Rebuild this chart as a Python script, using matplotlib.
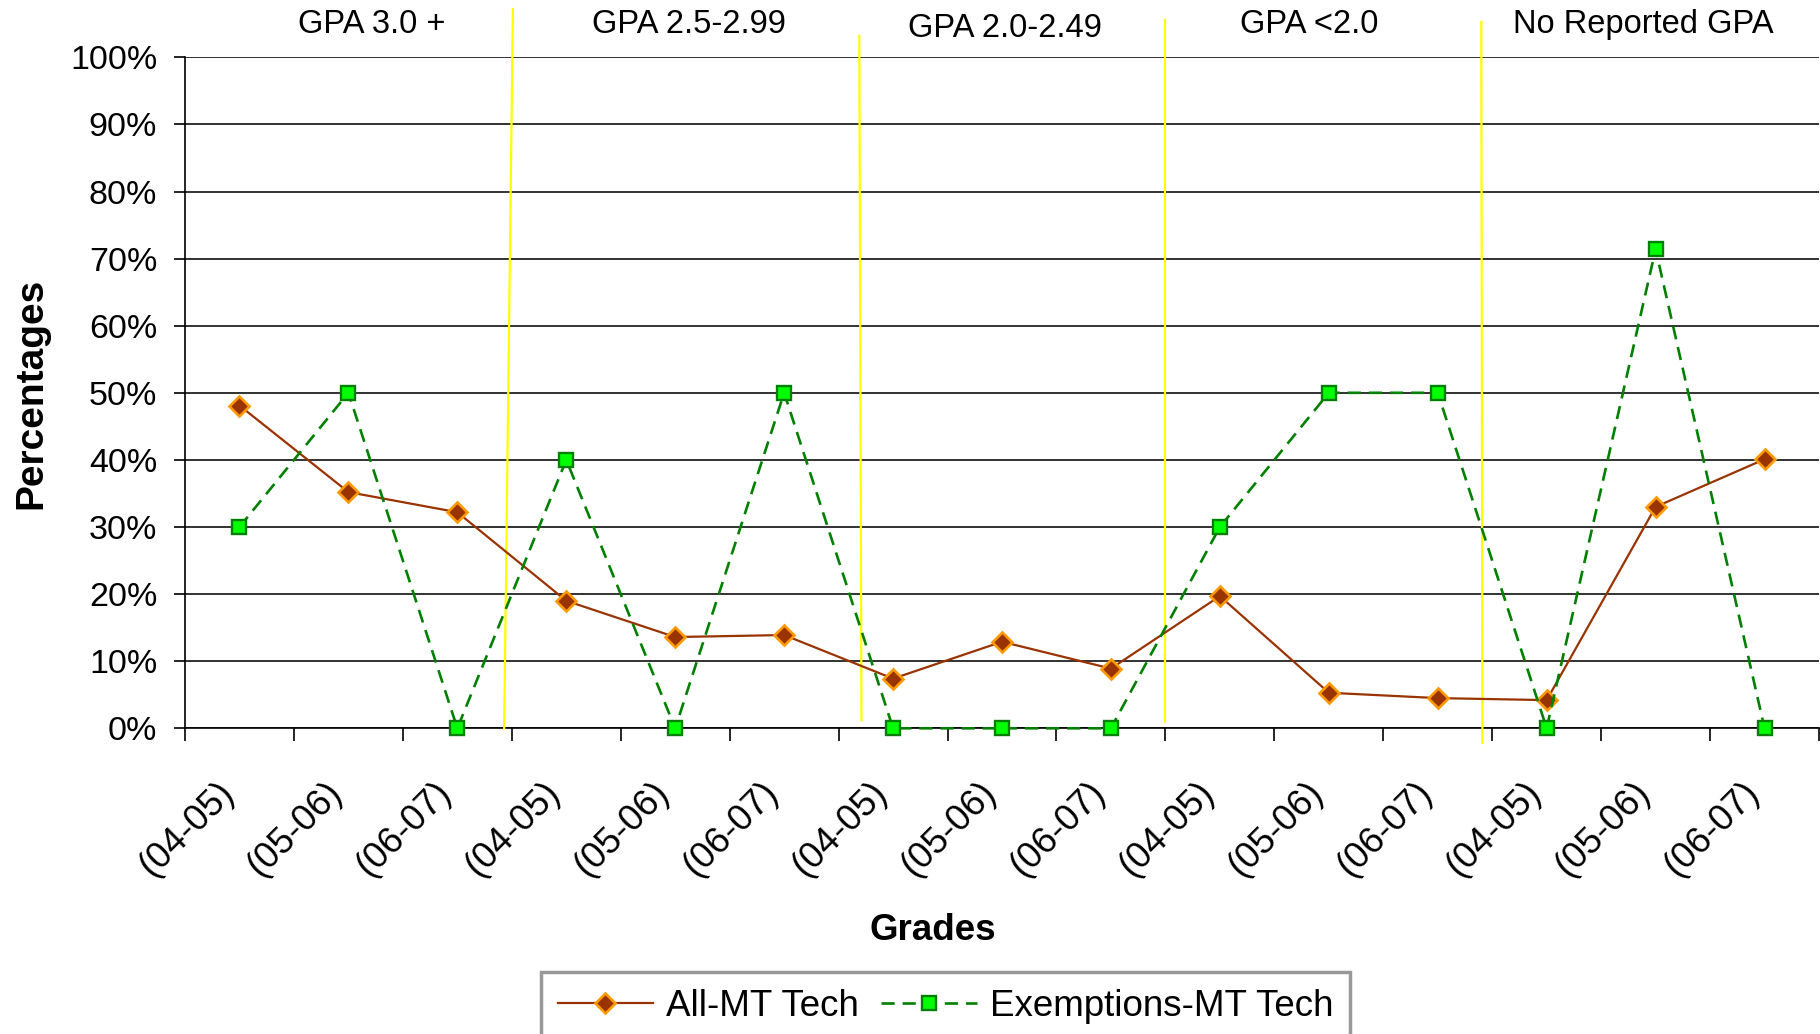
import numpy as np
import matplotlib
matplotlib.use('Agg')
import matplotlib.pyplot as plt
from matplotlib.transforms import ScaledTranslation

plt.rcParams['font.family'] = ['Liberation Sans', 'DejaVu Sans']

# data (percent)
years = ['(04-05)', '(05-06)', '(06-07)'] * 5
all_mt = [48.1, 35.2, 32.2, 19.0, 13.6, 13.9, 7.4, 12.9, 8.9, 19.7, 5.3, 4.5, 4.2, 33.0, 40.1]
exemptions = [30, 50, 0, 40, 0, 50, 0, 0, 0, 30, 50, 50, 0, 71.4, 0]
groups = ['GPA 3.0 +', 'GPA 2.5-2.99', 'GPA 2.0-2.49', 'GPA <2.0', 'No Reported GPA']
group_x = [1.21, 4.13, 7.03, 9.82, 12.89]
group_y = [104.9, 104.9, 104.3, 104.9, 104.9]

# hand drawn yellow separators (x top, x bottom, y top, y bottom)
sep_xt = [2.51, 5.69, 8.50, 11.40]
sep_xb = [2.43, 5.71, 8.50, 11.41]
sep_yt = [107.2, 103.2, 105.6, 105.3]
sep_yb = [0.0, 1.2, 0.9, -2.2]

fig = plt.figure(figsize=(18.2, 10.34), dpi=100)
ax = fig.add_axes([185 / 1820, 1 - 728.3 / 1034, 1634 / 1820, 671 / 1034])

x = np.arange(len(years))

ax.plot(x, all_mt, color='#993300', lw=1.6, marker='D', ms=10,
        mfc='#993300', mec='#FF9900', mew=1.9, zorder=4, clip_on=False,
        label='All-MT Tech')
ax.plot(x, exemptions, color='#008000', lw=1.9, ls=(0, (5, 3)), marker='s', ms=10.5,
        mfc='#00FF00', mec='#008000', mew=1.7, zorder=5, clip_on=False,
        label='Exemptions-MT Tech')

for xt, xb, yt, yb in zip(sep_xt, sep_xb, sep_yt, sep_yb):
    ax.plot([xt, xb], [yt, yb], color='#FFFF00', lw=1.6, clip_on=False, zorder=3)

for name, gx, gy in zip(groups, group_x, group_y):
    ax.text(gx, gy, name, ha='center', va='center', fontsize=23.5, clip_on=False)

ax.set_xlim(-0.5, len(years) - 0.5)
ax.set_ylim(0, 100)

ax.set_yticks(np.arange(0, 101, 10))
ax.set_yticklabels(['%d%%' % v for v in range(0, 101, 10)])
ax.tick_params(axis='y', length=8, width=1.2, pad=12, labelsize=24.5)
ax.yaxis.grid(True, color='#222222', lw=1.3)
ax.set_axisbelow(True)

# ticks on category edges, labels on category centres
ax.set_xticks(np.arange(-0.5, len(years), 1))
ax.set_xticklabels([])
ax.tick_params(axis='x', which='major', length=9.4, width=1.2, direction='out')
ax.tick_params(axis='x', which='minor', length=0)
xlab_shift = ScaledTranslation(-0.11, 0.04, fig.dpi_scale_trans)
for xi, yr in zip(x, years):
    ax.text(xi, -9.3, yr, rotation=45, ha='right', va='center', rotation_mode='anchor',
            fontsize=26.5, transform=ax.transData + xlab_shift, clip_on=False)

ax.spines['top'].set_visible(False)
ax.spines['right'].set_visible(False)
ax.spines['left'].set_linewidth(1.2)
ax.spines['bottom'].set_linewidth(1.2)

fig.text(31 / 1820, 1 - 393 / 1034, 'Percentages', rotation=90, ha='center', va='center',
         fontsize=28, fontweight='bold')
fig.text(933 / 1820, 1 - 931 / 1034, 'Grades', ha='center', va='center',
         fontsize=26.5, fontweight='bold')

leg = fig.legend(loc='upper left', bbox_to_anchor=(541 / 1820, 1 - 972 / 1034), ncol=2,
                 fontsize=26.5, frameon=True, fancybox=False, edgecolor='#808080',
                 handlelength=2.6, handletextpad=0.35, columnspacing=0.6,
                 borderpad=0.45, borderaxespad=0.)
leg.get_frame().set_linewidth(2.5)

fig.savefig('out.png', dpi=100)
